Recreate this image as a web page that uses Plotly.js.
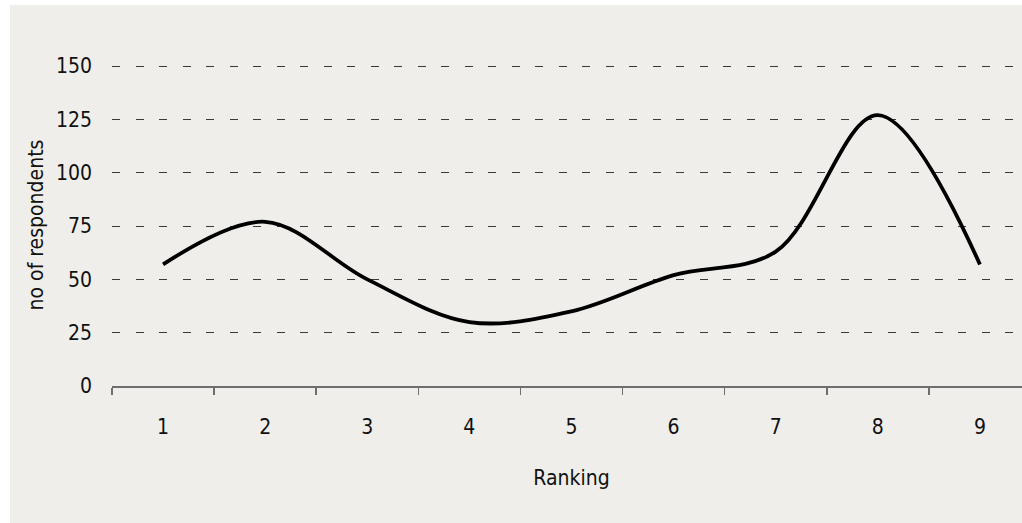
<!DOCTYPE html>
<html>
<head>
<meta charset="utf-8">
<script src="https://cdn.plot.ly/plotly-3.0.1.min.js"></script>
<style>
  html, body { margin: 0; padding: 0; background: #ffffff; overflow: hidden; width: 1022px; height: 523px; }
  #chart { position: absolute; left: 10px; top: 5px; width: 1041px; height: 518px; }
</style>
</head>
<body>
<div id="chart"></div>
<script>
const rankings = ["1", "2", "3", "4", "5", "6", "7", "8", "9"];
const respondents = [57, 77, 50, 30, 35, 52, 63, 127, 57];
const yTicks = [0, 25, 50, 75, 100, 125, 150];

const FONT = "'DejaVu Sans Condensed', 'Liberation Sans Narrow', 'Arial Narrow', sans-serif";
const BG = "#efeeea";

const trace = {
  x: rankings,
  y: respondents,
  type: "scatter",
  mode: "lines",
  line: { color: "#000000", width: 3.8, shape: "spline", smoothing: 1 },
  hoverinfo: "skip"
};

const layout = {
  width: 1041,
  height: 518,
  margin: { l: 102, r: 20, t: 58.6, b: 137.3 },
  paper_bgcolor: BG,
  plot_bgcolor: BG,
  showlegend: false,
  font: { family: FONT, size: 21, color: "#111111" },
  xaxis: {
    type: "category",
    range: [-0.5, 8.5],
    tickson: "boundaries",
    ticks: "outside",
    ticklen: 7,
    tickwidth: 1.5,
    tickcolor: "#6e6e6e",
    showline: true,
    linecolor: "#6e6e6e",
    linewidth: 2,
    showgrid: false,
    zeroline: false,
    ticklabelstandoff: 21,
    tickfont: { family: FONT, size: 21, color: "#111111" },
    title: { text: "Ranking", font: { family: FONT, size: 21, color: "#111111" }, standoff: 32 }
  },
  yaxis: {
    range: [0, 151],
    tickvals: yTicks,
    ticktext: yTicks.map(String),
    ticks: "",
    showline: false,
    zeroline: false,
    showgrid: true,
    gridcolor: "#3a3a3a",
    gridwidth: 1,
    griddash: "8px,15.5px",
    ticklabelstandoff: 19,
    tickfont: { family: FONT, size: 21, color: "#111111" },
    title: { text: "no of respondents", font: { family: FONT, size: 21, color: "#111111" }, standoff: 6 }
  }
};

Plotly.newPlot("chart", [trace], layout, { displayModeBar: false, staticPlot: true });
</script>
</body>
</html>
